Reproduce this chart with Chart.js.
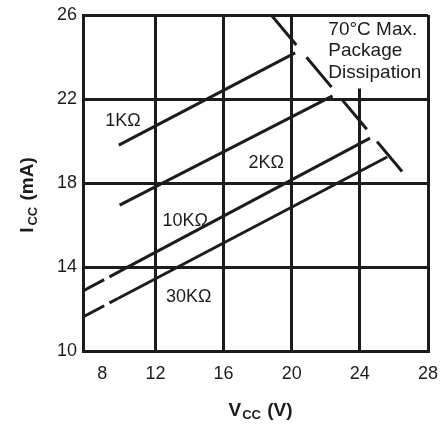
<!DOCTYPE html>
<html>
<head>
<meta charset="utf-8">
<script src="https://cdn.jsdelivr.net/npm/chart.js@4/dist/chart.umd.min.js"></script>
<style>
  html, body { margin: 0; padding: 0; background: #fff; }
  canvas { display: block; }
</style>
</head>
<body>
<canvas id="c" width="446" height="424"></canvas>
<script>
// Supply current vs. supply voltage for several load resistances
const xTicks = [8, 12, 16, 20, 24, 28];
const yTicks = [10, 14, 18, 22, 26];

const r1kV = [9.85, 20.2];
const r1kI = [19.8, 24.2];

const r2kV = [9.9, 22.4];
const r2kI = [16.95, 22.15];

// first segment of the 10K / 30K curves is extrapolated (dashed)
const r10kV = [7.75, 10.2, 24.6];
const r10kI = [12.86, 13.92, 20.14];

const r30kV = [7.75, 9.8, 25.6];
const r30kI = [11.62, 12.5, 19.24];

// 70 °C package dissipation limit
const limitV = [18.8, 26.65];
const limitI = [26.0, 18.38];

const curveLabels = ['1K\u03A9', '2K\u03A9', '10K\u03A9', '30K\u03A9'];
const labelV = [10.1, 18.5, 13.75, 13.95];
const labelI = [20.95, 18.95, 16.2, 12.57];

const noteLines = ['70\u00B0C Max.', 'Package', 'Dissipation'];

const INK = '#1c1c1c';
const FONT = 'Liberation Sans';
Chart.defaults.font.family = FONT;

function pts(xs, ys) { return xs.map((x, i) => ({ x: x, y: ys[i] })); }

function curve(xs, ys, dashedFirst) {
  return {
    data: pts(xs, ys),
    borderColor: INK,
    borderWidth: 3,
    pointRadius: 0,
    fill: false,
    tension: 0,
    borderCapStyle: 'butt',
    segment: dashedFirst ? {
      borderDash: ctx => ctx.p0DataIndex === 0 ? [24, 6] : undefined
    } : undefined
  };
}

const limitSet = {
  data: pts(limitV, limitI),
  borderColor: INK,
  borderWidth: 3,
  pointRadius: 0,
  fill: false,
  borderDash: [39, 16],
  borderCapStyle: 'butt'
};

// white panel behind the dissipation note (covers the grid)
const notePanel = {
  id: 'notePanel',
  beforeDatasetsDraw(chart) {
    const { ctx, chartArea: a, scales: { x, y } } = chart;
    const left = x.getPixelForValue(21.8);
    const bottom = y.getPixelForValue(22.5);
    ctx.save();
    ctx.fillStyle = '#fff';
    ctx.fillRect(left, a.top + 2, a.right - 2 - left, bottom - a.top - 2);
    ctx.fillStyle = INK;
    ctx.font = '19px "' + FONT + '", Arial, sans-serif';
    ctx.textAlign = 'left';
    ctx.textBaseline = 'middle';
    const tx = x.getPixelForValue(22.15);
    const ty = y.getPixelForValue(25.3);
    noteLines.forEach((t, i) => ctx.fillText(t, tx, ty + i * 21.5));
    ctx.restore();
  }
};

const curveText = {
  id: 'curveText',
  afterDatasetsDraw(chart) {
    const { ctx, scales: { x, y } } = chart;
    ctx.save();
    ctx.fillStyle = INK;
    ctx.font = '18px "' + FONT + '", Arial, sans-serif';
    ctx.textAlign = 'center';
    ctx.textBaseline = 'middle';
    curveLabels.forEach((t, i) => {
      ctx.fillText(t, x.getPixelForValue(labelV[i]), y.getPixelForValue(labelI[i]));
    });
    ctx.restore();
  }
};

// axis titles with subscripts: V_CC (V) and I_CC (mA)
function drawSubTitle(ctx, parts) {
  let w = 0;
  parts.forEach(p => { ctx.font = p.font; w += ctx.measureText(p.t).width + (p.gap || 0); });
  let cx = -w / 2;
  parts.forEach(p => {
    ctx.font = p.font;
    ctx.fillText(p.t, cx, p.dy || 0);
    cx += ctx.measureText(p.t).width + (p.gap || 0);
  });
}

const axisTitles = {
  id: 'axisTitles',
  afterDraw(chart) {
    const { ctx, chartArea: a } = chart;
    const big = 'bold 19px "' + FONT + '", Arial, sans-serif';
    const small = 'bold 13px "' + FONT + '", Arial, sans-serif';
    ctx.save();
    ctx.fillStyle = INK;
    ctx.textAlign = 'left';
    ctx.textBaseline = 'alphabetic';

    ctx.save();
    ctx.translate((a.left + a.right) / 2 + 5, a.bottom + 65);
    drawSubTitle(ctx, [
      { t: 'V', font: big, gap: 1 },
      { t: 'CC', font: small, dy: 3, gap: 1 },
      { t: ' (V)', font: big }
    ]);
    ctx.restore();

    ctx.save();
    ctx.translate(33, (a.top + a.bottom) / 2 + 12);
    ctx.rotate(-Math.PI / 2);
    drawSubTitle(ctx, [
      { t: 'I', font: big, gap: 2 },
      { t: 'CC', font: small, dy: 4, gap: 1 },
      { t: ' (mA)', font: big }
    ]);
    ctx.restore();

    ctx.restore();
  }
};

new Chart(document.getElementById('c'), {
  type: 'line',
  data: {
    datasets: [
      curve(r1kV, r1kI, false),
      curve(r2kV, r2kI, false),
      curve(r10kV, r10kI, true),
      curve(r30kV, r30kI, true),
      limitSet
    ]
  },
  options: {
    responsive: false,
    animation: false,
    events: [],
    layout: { padding: { left: 0, right: 18, top: 15, bottom: 0 } },
    plugins: {
      legend: { display: false },
      tooltip: { enabled: false }
    },
    scales: {
      x: {
        type: 'linear',
        min: 7.75,
        max: 28,
        afterBuildTicks: s => { s.ticks = xTicks.map(v => ({ value: v })); },
        afterFit: s => { s.height = 73; s.paddingLeft = 0; s.paddingRight = 0; },
        grid: {
          color: c => (c.tick && c.tick.value === 8) ? 'rgba(0,0,0,0)' : INK,
          lineWidth: 3,
          drawTicks: false
        },
        border: { color: INK, width: 3 },
        ticks: {
          color: INK,
          font: { family: FONT, size: 18 },
          padding: 12,
          maxRotation: 0,
          autoSkip: false,
          callback: v => v === 8 ? '      8' : String(v)
        }
      },
      y: {
        type: 'linear',
        min: 10,
        max: 26,
        afterBuildTicks: s => { s.ticks = yTicks.map(v => ({ value: v })); },
        afterFit: s => { s.width = 83; s.paddingTop = 0; s.paddingBottom = 0; },
        grid: { color: INK, lineWidth: 3, drawTicks: false },
        border: { color: INK, width: 3 },
        ticks: {
          color: INK,
          font: { family: FONT, size: 18 },
          padding: 6,
          autoSkip: false
        }
      }
    }
  },
  plugins: [notePanel, curveText, axisTitles]
});
</script>
</body>
</html>
